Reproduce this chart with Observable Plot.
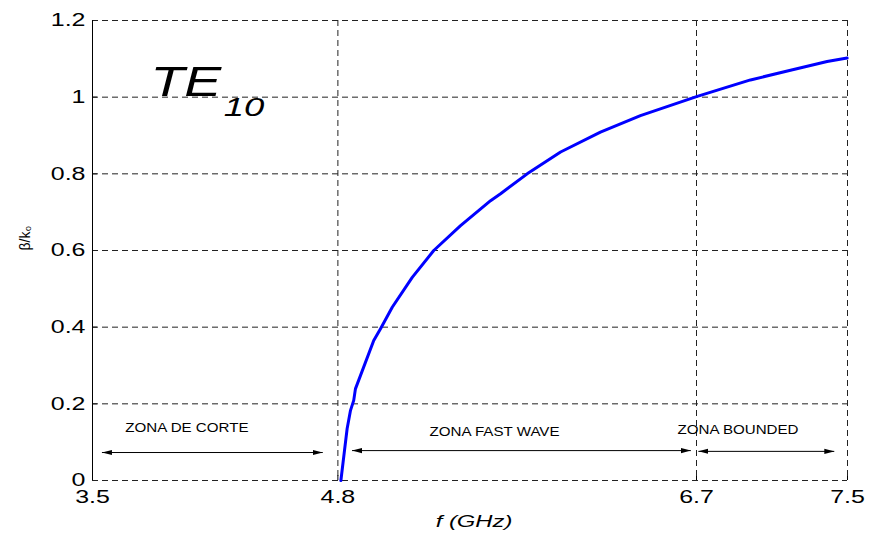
<!DOCTYPE html>
<html><head><meta charset="utf-8">
<script src="https://cdn.jsdelivr.net/npm/d3@7"></script>
<script src="https://cdn.jsdelivr.net/npm/@observablehq/plot@0.6"></script>
<style>body{margin:0;background:#fff}</style>
</head><body><div id="chart"></div>
<script>
// curve beta/k0 vs f (GHz)
const freq = [4.816, 4.835, 4.849, 4.867, 4.884, 4.893, 4.990, 5.026, 5.088, 5.194, 5.308, 5.450, 5.609, 5.662, 5.803, 5.980, 6.191, 6.403, 6.704, 6.986, 7.198, 7.392, 7.498];
const beta = [0, 0.078, 0.135, 0.183, 0.209, 0.239, 0.365, 0.396, 0.452, 0.530, 0.600, 0.665, 0.730, 0.748, 0.800, 0.857, 0.909, 0.952, 1.002, 1.045, 1.070, 1.093, 1.102];

const xTicks = [3.5, 4.8, 6.7, 7.5];
const yTicks = [0, 0.2, 0.4, 0.6, 0.8, 1, 1.2];

const zoneLabels = ["ZONA DE CORTE", "ZONA FAST WAVE", "ZONA BOUNDED"];
const zoneLabelX = [4.0, 5.63, 6.92];
const zoneLabelY = [0.138, 0.128, 0.133];
const zoneStart = [3.55, 4.875, 6.71];
const zoneEnd = [4.72, 6.67, 7.43];
const zoneArrowY = [0.073, 0.078, 0.076];

const modeText = ["TE", "10"];
const modeX = [3.807, 4.195];
const modeY = [1.004, 0.952];
const modeSize = [42, 26];

const xLabel = "f (GHz)";
const yLabel = "β/k₀";

const curve = freq.map((f, i) => ({f, b: beta[i]}));
const zones = zoneLabels.map((name, i) => ({name, x: zoneLabelX[i], y: zoneLabelY[i], x1: zoneStart[i], x2: zoneEnd[i], ya: zoneArrowY[i]}));
const mode = modeText.map((t, i) => ({t, x: modeX[i], y: modeY[i], s: modeSize[i]}));

const font = "'Liberation Sans', Arial, sans-serif";
const dash = "6,4";

const plot = Plot.plot({
  width: 871, height: 536,
  marginLeft: 92, marginRight: 24, marginTop: 20, marginBottom: 56,
  style: {fontFamily: font, fontSize: "18.5px", color: "#000", background: "#fff", overflow: "visible"},
  x: {domain: [3.5, 7.5], ticks: xTicks, tickSize: -5, tickPadding: 14, label: null, tickFormat: d => String(d)},
  y: {domain: [0, 1.2], ticks: yTicks, tickSize: -5, tickPadding: 12, label: null, tickFormat: d => String(d)},
  marks: [
    Plot.ruleY(yTicks, {stroke: "#222", strokeDasharray: dash}),
    Plot.ruleX(xTicks.slice(1), {stroke: "#222", strokeDasharray: dash}),
    Plot.ruleX(xTicks.slice(0, 1), {stroke: "#000"}),
    Plot.link(zones, {x1: "x1", x2: "x2", y1: "ya", y2: "ya", stroke: "#000", strokeWidth: 1, markerStart: "arrow", markerEnd: "arrow"}),
    Plot.text(zones, {x: "x", y: "y", text: "name", fontSize: 13.5, textAnchor: "middle", lineAnchor: "middle", fill: "#000"}),
    Plot.line(curve, {x: "f", y: "b", stroke: "#0000ff", strokeWidth: 3}),
    Plot.text(mode, {x: "x", y: "y", text: "t", fontSize: d => d.s, fontStyle: "italic", textAnchor: "start", lineAnchor: "bottom", fill: "#000"}),
    Plot.text([xLabel], {frameAnchor: "bottom", dy: 41, dx: 4, fontStyle: "italic", fontSize: 17, lineAnchor: "middle", fill: "#000"}),
    Plot.text([yLabel], {frameAnchor: "left", dx: -67, rotate: -90, fontSize: 14, lineAnchor: "middle", fill: "#000"})
  ]
});
document.getElementById("chart").append(plot);

const svg = d3.select(plot);
function stretch(sel, k) {
  sel.each(function() {
    const w = this.getComputedTextLength();
    this.setAttribute("textLength", (w * k).toFixed(2));
    this.setAttribute("lengthAdjust", "spacingAndGlyphs");
  });
}
stretch(svg.selectAll("g[aria-label='x-axis tick label'] text, g[aria-label='y-axis tick label'] text"), 1.35);
stretch(svg.selectAll("text").filter(function() { return zoneLabels.includes(this.textContent); }), 1.12);
stretch(svg.selectAll("text").filter(function() { return this.textContent === "TE"; }), 1.32);
stretch(svg.selectAll("text").filter(function() { return this.textContent === "10"; }), 1.4);
stretch(svg.selectAll("text").filter(function() { return this.textContent === xLabel; }), 1.4);

// filled arrowheads pointing outwards
svg.selectAll("marker")
  .attr("viewBox", "-10 -5 10 10")
  .attr("markerWidth", 10).attr("markerHeight", 10)
  .attr("markerUnits", "userSpaceOnUse")
  .attr("orient", "auto-start-reverse")
  .attr("fill", "#000").attr("stroke", "none")
  .each(function() {
    d3.select(this).selectAll("*").remove();
    d3.select(this).append("path").attr("d", "M-10,-2.6L0,0L-10,2.6Z");
  });
</script>
</body></html>
